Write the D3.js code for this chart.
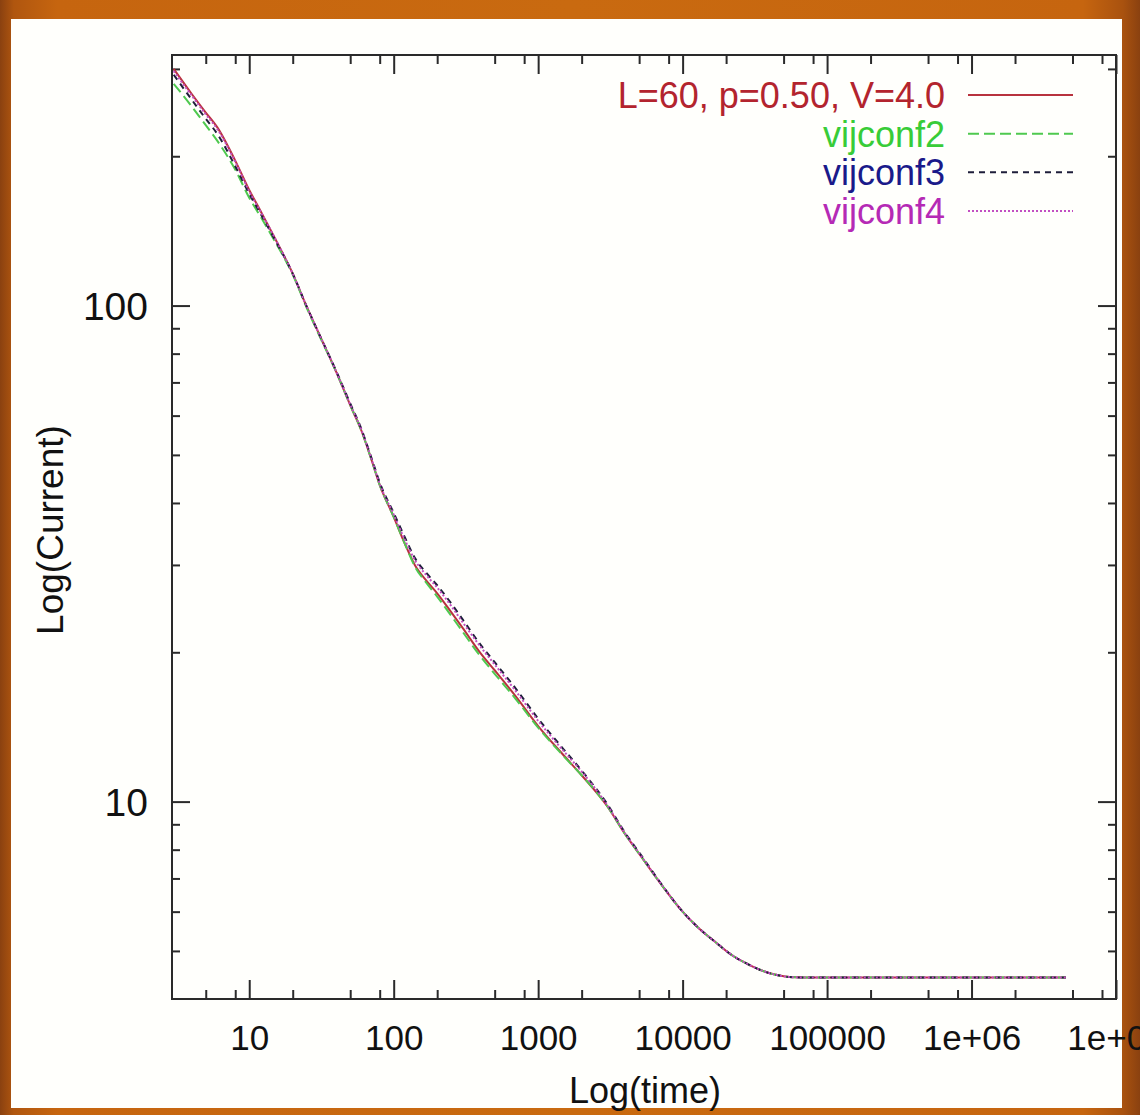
<!DOCTYPE html>
<html>
<head>
<meta charset="utf-8">
<script src="https://cdn.jsdelivr.net/npm/d3@7"></script>
<style>
  html, body { margin: 0; padding: 0; background: #c2620f; }
  svg { display: block; }
</style>
</head>
<body>
<svg id="chart" width="1140" height="1115"></svg>
<script>
// Simulation time steps (shared by all runs)
const time = [3, 4, 5, 6, 8, 10, 12, 15, 20, 25, 30, 40, 50, 60, 70, 80, 100, 120, 140, 170, 200,
  250, 300, 400, 500, 700, 1000, 1500, 2000, 3000, 4000, 5000, 7000, 10000, 13000, 17000, 22000,
  28000, 35000, 45000, 55000, 70000, 100000, 300000, 1000000, 3000000, 4500000];

// Current for each configuration
const currentBase = [300, 267, 245, 229, 196, 171, 155, 137, 116, 99.5, 88.5, 73.5, 63, 55.8, 49, 43.5, 37.5,
  33.0, 30.0, 27.8, 26.3, 24.1, 22.4, 19.9, 18.4, 16.3, 14.2, 12.4, 11.3, 9.8, 8.6, 7.85, 6.85, 6.0, 5.55,
  5.2, 4.9, 4.71, 4.57, 4.47, 4.43, 4.42, 4.42, 4.42, 4.42, 4.42, 4.42];
const currentConf2 = [280, 252, 231, 215, 188, 165, 151, 135, 115.5, 99, 88, 73.5, 63, 55.8, 49, 43.5, 37.5,
  33.0, 29.8, 27.5, 25.9, 23.7, 22.0, 19.6, 18.1, 16.1, 14.1, 12.35, 11.3, 9.8, 8.6, 7.85, 6.85, 6.0, 5.55,
  5.2, 4.9, 4.71, 4.57, 4.47, 4.43, 4.42, 4.42, 4.42, 4.42, 4.42, 4.42];
const currentConf3 = [292, 260, 238, 222, 191, 168, 153, 136, 116, 99.5, 88.5, 73.8, 63.5, 56.2, 49.4, 44.0, 38.2,
  34.0, 31.0, 28.8, 27.3, 25.1, 23.3, 20.7, 19.1, 16.9, 14.7, 12.75, 11.55, 9.9, 8.65, 7.9, 6.87, 6.0, 5.55,
  5.2, 4.9, 4.71, 4.57, 4.47, 4.43, 4.42, 4.42, 4.42, 4.42, 4.42, 4.42];
const currentConf4 = [297, 265, 243, 227, 195, 170, 154.5, 137, 116, 99.5, 88.5, 73.6, 63.2, 56.0, 49.2, 43.7, 37.9,
  33.6, 30.7, 28.5, 27.0, 24.8, 23.0, 20.5, 18.9, 16.7, 14.55, 12.65, 11.5, 9.85, 8.62, 7.87, 6.86, 6.0, 5.55,
  5.2, 4.9, 4.71, 4.57, 4.47, 4.43, 4.42, 4.42, 4.42, 4.42, 4.42, 4.42];

const seriesLabels = ["L=60, p=0.50, V=4.0", "vijconf2", "vijconf3", "vijconf4"];

const xTickValues = [10, 100, 1000, 10000, 100000, 1e6, 1e7];
const xTickLabels = ["10", "100", "1000", "10000", "100000", "1e+06", "1e+07"];
const yTickValues = [10, 100];
const yTickLabels = ["10", "100"];

const xTitle = "Log(time)";
const yTitle = "Log(Current)";

// ---- styles ----
const FONT = "'Liberation Sans', Arial, Helvetica, sans-serif";
const styles = [
  { line: "#b8323e", text: "#b3242e", dash: null, width: 2 },
  { line: "#4fc94f", text: "#38cc38", dash: "11,5", width: 2 },
  { line: "#1e1e3a", text: "#1a1a8a", dash: "6,5", width: 2 },
  { line: "#c24fc2", text: "#b52ab5", dash: "2,2", width: 2 }
];
const seriesValues = [currentBase, currentConf2, currentConf3, currentConf4];

const W = 1140, H = 1115;
const plot = { left: 172, right: 1116, top: 55, bottom: 999 };

const svg = d3.select("#chart");
const defs = svg.append("defs");

// orange frame around the white panel
const grad = defs.append("linearGradient").attr("id", "frameGrad").attr("x1", "0").attr("x2", "1").attr("y1", "0").attr("y2", "0");
[[0, "#8a4110"], [0.012, "#b0560f"], [0.05, "#c6650f"], [0.5, "#c96a10"], [0.95, "#c6650f"], [0.985, "#a9520f"], [1, "#8a4110"]]
  .forEach(([o, c]) => grad.append("stop").attr("offset", o).attr("stop-color", c));
svg.append("rect").attr("width", W).attr("height", H).attr("fill", "url(#frameGrad)");

const panel = { x: 11, y: 19, w: 1111, h: 1089 };
svg.append("rect").attr("x", panel.x).attr("y", panel.y).attr("width", panel.w).attr("height", panel.h)
  .attr("fill", "#fffffc");

const g = svg.append("g");

// ---- scales ----
const x = d3.scaleLog().domain([2.92, 1e7]).range([plot.left, plot.right]);
const y = d3.scaleLog().domain([4.0, 320]).range([plot.bottom, plot.top]);

// minor tick positions
const xMinor = [];
for (let e = 0; e <= 6; e++) [2, 5, 8].forEach(m => { const v = m * Math.pow(10, e); if (v > x.domain()[0] && v < x.domain()[1]) xMinor.push(v); });
const yMinor = [];
for (let e = 0; e <= 2; e++) for (let m = 2; m <= 9; m++) { const v = m * Math.pow(10, e); if (v > y.domain()[0] && v < y.domain()[1]) yMinor.push(v); }

const AX = "#2a2a2a";
function styleAxis(sel) {
  sel.select(".domain").remove();
  sel.selectAll(".tick line").attr("stroke", AX).attr("stroke-width", 2);
}

// ---- axes (ticks pointing inward on all four sides) ----
const xMajFmt = (d) => xTickLabels[xTickValues.indexOf(d)];
const yMajFmt = (d) => yTickLabels[yTickValues.indexOf(d)];

g.append("g").attr("transform", `translate(0,${plot.bottom})`)
  .call(d3.axisBottom(x).tickValues(xTickValues).tickFormat(xMajFmt).tickSizeInner(-19).tickSizeOuter(0).tickPadding(14))
  .call(styleAxis)
  .call(s => s.selectAll(".tick text").attr("font-family", FONT).attr("font-size", 35).attr("fill", "#111")
    .attr("y", 51).attr("dy", 0));
g.append("g").attr("transform", `translate(0,${plot.bottom})`)
  .call(d3.axisBottom(x).tickValues(xMinor).tickFormat("").tickSizeInner(-9).tickSizeOuter(0)).call(styleAxis);

g.append("g").attr("transform", `translate(0,${plot.top})`)
  .call(d3.axisTop(x).tickValues(xTickValues).tickFormat("").tickSizeInner(-19).tickSizeOuter(0)).call(styleAxis);
g.append("g").attr("transform", `translate(0,${plot.top})`)
  .call(d3.axisTop(x).tickValues(xMinor).tickFormat("").tickSizeInner(-9).tickSizeOuter(0)).call(styleAxis);

g.append("g").attr("transform", `translate(${plot.left},0)`)
  .call(d3.axisLeft(y).tickValues(yTickValues).tickFormat(yMajFmt).tickSizeInner(-18).tickSizeOuter(0).tickPadding(24))
  .call(styleAxis)
  .call(s => s.selectAll(".tick text").attr("font-family", FONT).attr("font-size", 39).attr("fill", "#111")
    .attr("x", -24).attr("dy", "0.36em"));
g.append("g").attr("transform", `translate(${plot.left},0)`)
  .call(d3.axisLeft(y).tickValues(yMinor).tickFormat("").tickSizeInner(-8).tickSizeOuter(0)).call(styleAxis);

g.append("g").attr("transform", `translate(${plot.right},0)`)
  .call(d3.axisRight(y).tickValues(yTickValues).tickFormat("").tickSizeInner(-18).tickSizeOuter(0)).call(styleAxis);
g.append("g").attr("transform", `translate(${plot.right},0)`)
  .call(d3.axisRight(y).tickValues(yMinor).tickFormat("").tickSizeInner(-8).tickSizeOuter(0)).call(styleAxis);

// ---- curves ----
const line = d3.line().x(d => x(d[0])).y(d => y(d[1])).curve(d3.curveMonotoneX);
defs.append("clipPath").attr("id", "plotClip").append("rect")
  .attr("x", plot.left).attr("y", plot.top).attr("width", plot.right - plot.left).attr("height", plot.bottom - plot.top);
const curves = g.append("g").attr("clip-path", "url(#plotClip)");
seriesValues.forEach((vals, i) => {
  const pts = time.map((t, k) => [t, vals[k]]);
  curves.append("path").datum(pts).attr("d", line)
    .attr("fill", "none").attr("stroke", styles[i].line).attr("stroke-width", styles[i].width)
    .attr("stroke-dasharray", styles[i].dash).attr("stroke-linejoin", "round");
});

// ---- frame ----
g.append("rect").attr("x", plot.left).attr("y", plot.top)
  .attr("width", plot.right - plot.left).attr("height", plot.bottom - plot.top)
  .attr("fill", "none").attr("stroke", AX).attr("stroke-width", 2);

// ---- legend ----
const legend = g.append("g");
const legendRowY = d3.scalePoint().domain(d3.range(seriesLabels.length)).range([95, 211]);
seriesLabels.forEach((lab, i) => {
  const yy = legendRowY(i);
  legend.append("text").attr("x", 945).attr("y", yy).attr("dy", "0.36em")
    .attr("text-anchor", "end").attr("font-family", FONT).attr("font-size", 36)
    .attr("fill", styles[i].text).text(lab);
  legend.append("line").attr("x1", 968).attr("x2", 1073).attr("y1", yy).attr("y2", yy)
    .attr("stroke", styles[i].line).attr("stroke-width", styles[i].width)
    .attr("stroke-dasharray", styles[i].dash);
});

// ---- axis titles ----
g.append("text").attr("x", 645).attr("y", 1103).attr("text-anchor", "middle")
  .attr("font-family", FONT).attr("font-size", 36).attr("fill", "#111").text(xTitle);
g.append("text").attr("transform", "translate(63,530) rotate(-90)").attr("text-anchor", "middle")
  .attr("font-family", FONT).attr("font-size", 37).attr("fill", "#111").text(yTitle);
</script>
</body>
</html>
